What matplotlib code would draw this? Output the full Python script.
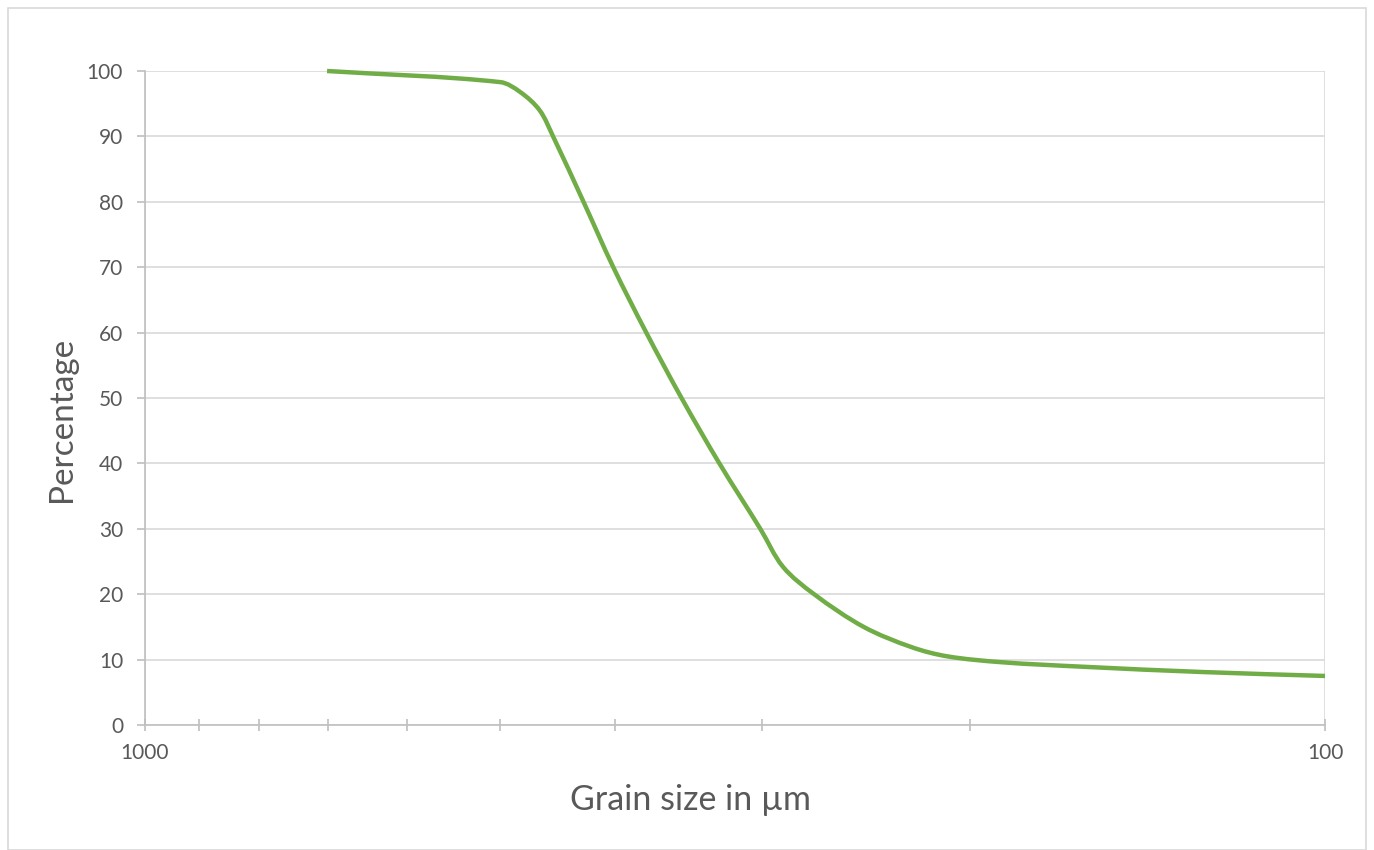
# Grain size distribution curve (Excel-style, smoothed line)

import numpy as np
import matplotlib
matplotlib.use('Agg')
import matplotlib.pyplot as plt
from matplotlib.patches import Rectangle, PathPatch
from matplotlib.path import Path
from matplotlib.ticker import FixedLocator, NullFormatter

plt.rcParams['font.family'] = ['Lato', 'DejaVu Sans']

# Data
grain_size = [701, 500, 481, 463, 451, 425, 401, 376, 351, 326, 301,
              288, 271, 246, 224, 209, 188, 160, 127, 100]
percentage = [100, 98.3, 96.8, 94.0, 90.0, 80.0, 70.0, 60.0, 50.0, 40.0, 30.0,
              24.2, 20.0, 15.0, 11.9, 10.5, 9.6, 8.9, 8.1, 7.5]

y_ticks = list(range(0, 101, 10))
x_major = [1000, 100]
x_minor = [900, 800, 700, 600, 500, 400, 300, 200]

text_col = '#595959'
grid_col = '#D9D9D9'
axis_col = '#BFBFBF'


def smooth_path(xs, ys, sx=1180.0, sy=6.54):
    # smoothed line as cubic Beziers; tangents from neighbours, handle length
    # a third of each segment (measured on screen scale) so nothing loops
    u = np.log10(np.asarray(xs, dtype=float)) * sx
    v = np.asarray(ys, dtype=float) * sy
    pts = np.column_stack([u, v])
    n = len(pts)
    tang = []
    for i in range(n):
        d = pts[min(i + 1, n - 1)] - pts[max(i - 1, 0)]
        tang.append(d / np.hypot(*d))
    verts = [pts[0]]
    codes = [Path.MOVETO]
    for i in range(n - 1):
        seg = np.hypot(*(pts[i + 1] - pts[i])) / 3.0
        verts += [pts[i] + tang[i] * seg, pts[i + 1] - tang[i + 1] * seg, pts[i + 1]]
        codes += [Path.CURVE4] * 3
    verts = np.array(verts)
    verts = np.column_stack([10 ** (verts[:, 0] / sx), verts[:, 1] / sy])
    return Path(verts, codes)


fig = plt.figure(figsize=(13.74, 8.5), dpi=100)
ax = fig.add_axes([145 / 1374, 1 - 725 / 850, 1180 / 1374, 654 / 850])

ax.set_xscale('log')
ax.set_xlim(1000, 100)
ax.set_ylim(0, 100)

curve = PathPatch(smooth_path(grain_size, percentage), fill=False,
                  edgecolor='#70AD47', linewidth=3.2, joinstyle='round',
                  capstyle='butt', transform=ax.transData, clip_on=False, zorder=3)
ax.add_patch(curve)

ax.xaxis.set_major_locator(FixedLocator(x_major))
ax.xaxis.set_minor_locator(FixedLocator(x_minor))
ax.xaxis.set_minor_formatter(NullFormatter())
ax.set_xticklabels(['1000', '100'])
ax.set_yticks(y_ticks)

ax.grid(True, which='major', axis='both', color=grid_col, linewidth=1.2)
ax.set_axisbelow(True)

for side in ['top', 'right']:
    ax.spines[side].set_visible(False)
for side in ['left', 'bottom']:
    ax.spines[side].set_color(axis_col)
    ax.spines[side].set_linewidth(1.2)

ax.tick_params(axis='x', which='both', direction='inout', length=8,
               color=axis_col, width=1.2, labelsize=15, labelcolor=text_col, pad=9)
ax.tick_params(axis='y', which='both', direction='out', length=5.8,
               color=axis_col, width=1.2, labelsize=15, labelcolor=text_col, pad=10)

fig.text(691 / 1374, 1 - 810 / 850, 'Grain size in µm', fontsize=24.5,
         color=text_col, ha='center', va='baseline')
fig.text(62 / 1374, 1 - 419 / 850, 'Percentage', fontsize=24, rotation=90,
         color=text_col, ha='center', va='center')

# outer chart border
fig.patches.append(Rectangle((8 / 1374, 0), 1358 / 1374, 842 / 850,
                             transform=fig.transFigure, fill=False,
                             edgecolor=grid_col, linewidth=1.2))

plt.savefig('out.png', dpi=100)
